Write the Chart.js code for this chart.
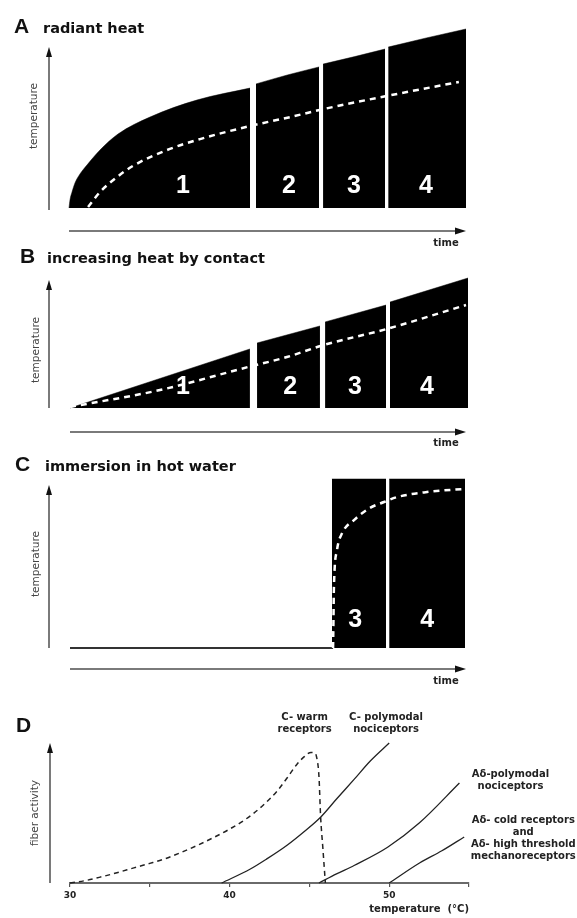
<!DOCTYPE html>
<html><head><meta charset="utf-8">
<script src="https://cdn.jsdelivr.net/npm/chart.js@4"></script>
<style>
html,body{margin:0;padding:0;background:#fff;}
#fig{position:relative;width:577px;height:918px;overflow:hidden;background:#fff;}
canvas{position:absolute;left:0;}
</style></head><body>
<div id="fig">
<canvas id="cA" width="577" height="252" style="top:0px"></canvas>
<canvas id="cB" width="577" height="210" style="top:245px"></canvas>
<canvas id="cC" width="577" height="245" style="top:450px"></canvas>
<canvas id="cD" width="577" height="223" style="top:695px"></canvas>
</div>
<script>
// ---------- DATA ----------
// Panel A: radiant heat (time 0-100, temperature 0-100, schematic units)
const aTime1 = [0, 0.25, 0.76, 1.51, 2.77, 4.53, 7.81, 12.34, 20.4, 32.2, 45.6];
const aTemp1 = [0, 4.5, 8.9, 14.0, 19.0, 24.0, 32.4, 41.3, 50.8, 60.3, 67];
const aTime2 = [47.1, 55, 63];
const aTemp2 = [69.3, 74.3, 78.8];
const aTime3 = [64, 72, 79.6];
const aTemp3 = [80.4, 84.6, 88.8];
const aTime4 = [80.4, 90, 100];
const aTemp4 = [89.9, 95, 100];
const aSkinTime = [4.8, 7.8, 12.1, 16.1, 24.7, 33, 45.6, 55.7, 64.2, 80.1, 98.2];
const aSkinTemp = [0.6, 8.9, 17.3, 23.5, 32.4, 38.5, 45.8, 50.8, 55.3, 62.6, 70.4];

// Panel B: increasing heat by contact
const bTime1 = [0, 45.2];
const bTemp1 = [0, 45.4];
const bTime2 = [47, 62.8];
const bTemp2 = [50, 63.1];
const bTime3 = [64.1, 79.4];
const bTemp3 = [66.2, 79.2];
const bTime4 = [80.4, 100];
const bTemp4 = [81.5, 100];
const bSkinTime = [0, 22.6, 44.7, 54.5, 63.8, 79.6, 99.5];
const bSkinTemp = [0.8, 13.8, 31.5, 39.2, 48.5, 60.8, 79.2];

// Panel C: immersion in hot water
const cBaseTime = [0, 66.6];
const cBaseTemp = [0, 0];
const cTime3 = [66.3, 80.0];
const cTemp3 = [100, 100];
const cTime4 = [80.8, 100];
const cTemp4 = [100, 100];
const cSkinTime = [66.6, 66.7, 66.8, 67.6, 68.9, 71.9, 75.9, 79.5, 82.8, 90.4, 99.7];
const cSkinTemp = [0, 16.6, 34.3, 58, 68, 75.7, 82.8, 86.4, 89.3, 92.3, 94.1];

// Section numbers
const phaseLabels = ['1', '2', '3', '4'];
const aPhaseTime = [28.7, 55.4, 71.8, 89.9];
const bPhaseTime = [28.4, 55.3, 71.6, 89.7];
const cPhaseLabels = ['3', '4'];
const cPhaseTime = [72.2, 90.4];

// Panel D: fiber activity vs temperature (°C)
const dWarmT = [30, 31, 32, 33, 34, 35, 36, 37, 38, 39, 40, 41, 42, 43, 43.6, 44.2, 44.7, 45.1, 45.3, 45.45, 45.6, 45.7, 45.85, 46.0];
const dWarmA = [0, 1.8, 4.5, 7.5, 10.8, 14, 17.5, 22, 27, 32.5, 38.5, 45.5, 54.5, 66, 75, 84.5, 90.5, 93.3, 93, 90, 76, 48, 24, 0];
const dCPolyT = [39.5, 41.3, 42.3, 43.6, 44.7, 45.7, 46.7, 47.8, 48.8, 50.0];
const dCPolyA = [0, 10, 17, 27, 37, 47, 60, 74, 87, 100];
const dAdPolyT = [45.6, 46.7, 47.8, 49.9, 51.9, 54.4];
const dAdPolyA = [0, 6.5, 12.5, 25.5, 43, 71.4];
const dAdColdT = [50, 51.9, 53.3, 54.7];
const dAdColdA = [0, 14.3, 23, 32.9];
const dTickLabels = [30, 40, 50];
const dLabelLines = [
  ['C- warm', 'receptors'],
  ['C- polymodal', 'nociceptors'],
  ['Aδ-polymodal', 'nociceptors'],
  ['Aδ- cold receptors', 'and', 'Aδ- high threshold', 'mechanoreceptors']
];
const dLabelT = [44.7, 49.8, 57.6, 58.4];
const dLabelA = [118.6, 118.6, 77.9, 45];

// ---------- HELPERS ----------
const FT = '"DejaVu Sans", sans-serif';
const FH = '"Liberation Sans", Arial, sans-serif';
const pts = (xs, ys) => xs.map((x, i) => ({x: x, y: ys[i]}));
const fillDs = (xs, ys) => ({data: pts(xs, ys), fill: 'origin', backgroundColor: '#000', borderColor: '#000',
  borderWidth: 0.5, pointRadius: 0, cubicInterpolationMode: 'monotone', order: 2, clip: false});
const dashDs = (xs, ys, color, w, dash) => ({data: pts(xs, ys), fill: false, borderColor: color, borderWidth: w,
  borderDash: dash, pointRadius: 0, cubicInterpolationMode: 'monotone', order: 0, clip: false});
const lineDs = (xs, ys, color, w) => ({data: pts(xs, ys), fill: false, borderColor: color, borderWidth: w,
  pointRadius: 0, cubicInterpolationMode: 'monotone', order: 1, clip: false});

function arrow(ctx, x1, y1, x2, y2, lineColor, headColor, lw, hl, hw) {
  const ang = Math.atan2(y2 - y1, x2 - x1);
  const c = Math.cos(ang), s = Math.sin(ang);
  ctx.strokeStyle = lineColor; ctx.lineWidth = lw;
  ctx.beginPath(); ctx.moveTo(x1, y1); ctx.lineTo(x2 - c * hl * 0.7, y2 - s * hl * 0.7); ctx.stroke();
  ctx.fillStyle = headColor; ctx.beginPath(); ctx.moveTo(x2, y2);
  ctx.lineTo(x2 - hl * c + hw / 2 * s, y2 - hl * s - hw / 2 * c);
  ctx.lineTo(x2 - hl * c - hw / 2 * s, y2 - hl * s + hw / 2 * c);
  ctx.closePath(); ctx.fill();
}

function decoPlugin(d) {
  return {
    id: 'deco',
    afterDatasetsDraw(chart) {
      if (!d.nums) return;
      const ctx = chart.ctx, xs = chart.scales.x, ys = chart.scales.y;
      ctx.save();
      ctx.fillStyle = '#fff'; ctx.font = 'bold 25px ' + FH;
      ctx.textAlign = 'center'; ctx.textBaseline = 'middle';
      d.nums.labels.forEach((t, i) => ctx.fillText(t, xs.getPixelForValue(d.nums.x[i]), ys.getPixelForValue(d.nums.y)));
      ctx.restore();
    },
    afterDraw(chart) {
      const ctx = chart.ctx, ca = chart.chartArea;
      ctx.save();
      const base = ca.top + d.titleDy;
      ctx.fillStyle = '#111'; ctx.textBaseline = 'alphabetic'; ctx.textAlign = 'left';
      ctx.font = 'bold 21px ' + FH;
      ctx.fillText(d.letter, d.letterX, base);
      if (d.title) { ctx.font = 'bold 14.5px ' + FT; ctx.fillText(d.title, d.titleX, base); }
      const yx = ca.left + d.yArrow.dx;
      arrow(ctx, yx, ca.bottom + d.yArrow.dBottom, yx, ca.top + d.yArrow.dTip, '#7a7a7a', '#111', 2, 10, 6);
      if (d.xArrow) {
        const xy = ca.bottom + d.xArrow.dy;
        arrow(ctx, ca.left, xy, ca.right + d.xArrow.dTip, xy, '#7a7a7a', '#111', 2, 11, 7);
      }
      ctx.save();
      ctx.translate(ca.left + d.yTitle.dx, ca.top + d.yTitle.dy);
      ctx.rotate(-Math.PI / 2);
      ctx.fillStyle = '#444'; ctx.font = '10.5px ' + FT; ctx.textAlign = 'center'; ctx.textBaseline = 'middle';
      ctx.fillText(d.yTitle.text, 0, 0);
      ctx.restore();
      if (d.xTitle) {
        ctx.fillStyle = '#222'; ctx.font = 'bold 10px ' + FT; ctx.textAlign = 'center'; ctx.textBaseline = 'middle';
        ctx.fillText(d.xTitle.text, ca.right + d.xTitle.dx, ca.bottom + d.xTitle.dy);
      }
      if (d.labels) {
        const xs = chart.scales.x, ys = chart.scales.y;
        ctx.fillStyle = '#222'; ctx.font = 'bold 10px ' + FT; ctx.textAlign = 'center'; ctx.textBaseline = 'middle';
        d.labels.lines.forEach((lines, i) => {
          const px = xs.getPixelForValue(d.labels.x[i]);
          const py = ys.getPixelForValue(d.labels.y[i]);
          lines.forEach((t, j) => ctx.fillText(t, px, py + j * 12));
        });
      }
      ctx.restore();
    }
  };
}

function baseOptions(pad, xMin, xMax, yMin, yMax) {
  return {
    responsive: false, animation: false, events: [],
    layout: {padding: pad},
    plugins: {legend: {display: false}, tooltip: {enabled: false}},
    scales: {
      x: {type: 'linear', min: xMin, max: xMax, display: false},
      y: {type: 'linear', min: yMin, max: yMax, display: false}
    }
  };
}

// ---------- PANEL A ----------
new Chart(document.getElementById('cA'), {
  type: 'line',
  data: {datasets: [
    dashDs(aSkinTime, aSkinTemp, '#fff', 2.5, [6, 5]),
    fillDs(aTime1, aTemp1), fillDs(aTime2, aTemp2), fillDs(aTime3, aTemp3), fillDs(aTime4, aTemp4)
  ]},
  options: baseOptions({left: 69, right: 111, top: 29, bottom: 44}, 0, 100, 0, 100),
  plugins: [decoPlugin({
    letter: 'A', letterX: 14, title: 'radiant heat', titleX: 43, titleDy: 4,
    yArrow: {dx: -20, dBottom: 2, dTip: 18}, xArrow: {dy: 23, dTip: 0},
    yTitle: {text: 'temperature', dx: -35, dy: 87}, xTitle: {text: 'time', dx: -20, dy: 35},
    nums: {labels: phaseLabels, x: aPhaseTime, y: 12}
  })]
});

// ---------- PANEL B ----------
new Chart(document.getElementById('cB'), {
  type: 'line',
  data: {datasets: [
    dashDs(bSkinTime, bSkinTemp, '#fff', 2.5, [6, 5]),
    fillDs(bTime1, bTemp1), fillDs(bTime2, bTemp2), fillDs(bTime3, bTemp3), fillDs(bTime4, bTemp4)
  ]},
  options: baseOptions({left: 70, right: 109, top: 33, bottom: 47}, 0, 100, 0, 100),
  plugins: [decoPlugin({
    letter: 'B', letterX: 20, title: 'increasing heat by contact', titleX: 47, titleDy: -15,
    yArrow: {dx: -21, dBottom: 0, dTip: 2}, xArrow: {dy: 24, dTip: -2},
    yTitle: {text: 'temperature', dx: -34, dy: 72}, xTitle: {text: 'time', dx: -22, dy: 35},
    nums: {labels: phaseLabels, x: bPhaseTime, y: 16}
  })]
});

// ---------- PANEL C ----------
new Chart(document.getElementById('cC'), {
  type: 'line',
  data: {datasets: [
    dashDs(cSkinTime, cSkinTemp, '#fff', 2.5, [6, 5]),
    lineDs(cBaseTime, cBaseTemp, '#333', 2),
    fillDs(cTime3, cTemp3), fillDs(cTime4, cTemp4)
  ]},
  options: baseOptions({left: 70, right: 112, top: 29, bottom: 47}, 0, 100, 0, 100),
  plugins: [decoPlugin({
    letter: 'C', letterX: 15, title: 'immersion in hot water', titleX: 45, titleDy: -8,
    yArrow: {dx: -21, dBottom: 0, dTip: 6}, xArrow: {dy: 21, dTip: 1},
    yTitle: {text: 'temperature', dx: -34, dy: 85}, xTitle: {text: 'time', dx: -19, dy: 33},
    nums: {labels: cPhaseLabels, x: cPhaseTime, y: 16.6}
  })]
});

// ---------- PANEL D ----------
const optD = baseOptions({left: 70, right: 108, top: 48, bottom: 0}, 30, 55, 0, 100);
optD.scales.x = {
  type: 'linear', min: 30, max: 55, display: true, position: 'bottom',
  afterFit: (s) => { s.height = 35; },
  border: {display: true, color: '#6a6a6a', width: 2},
  grid: {display: true, drawOnChartArea: false, drawTicks: true, tickLength: 4, color: '#555', lineWidth: 1.2},
  ticks: {stepSize: 5, autoSkip: false, maxRotation: 0, padding: 3, color: '#222',
    font: {family: FT, size: 9, weight: 'bold'},
    callback: (v) => dTickLabels.includes(v) ? String(v) : ''},
  title: {display: true, text: 'temperature  (°C)', align: 'end', color: '#222',
    font: {family: FT, size: 10, weight: 'bold'}, padding: {top: 2, bottom: 3}}
};
new Chart(document.getElementById('cD'), {
  type: 'line',
  data: {datasets: [
    dashDs(dWarmT, dWarmA, '#222', 1.5, [5, 4]),
    lineDs(dCPolyT, dCPolyA, '#222', 1.3),
    lineDs(dAdPolyT, dAdPolyA, '#222', 1.3),
    lineDs(dAdColdT, dAdColdA, '#222', 1.3)
  ]},
  options: optD,
  plugins: [decoPlugin({
    letter: 'D', letterX: 16, title: '', titleX: 45, titleDy: -11,
    yArrow: {dx: -20, dBottom: 0, dTip: 0},
    yTitle: {text: 'fiber activity', dx: -35, dy: 70},
    labels: {lines: dLabelLines, x: dLabelT, y: dLabelA}
  })]
});
</script></body></html>
